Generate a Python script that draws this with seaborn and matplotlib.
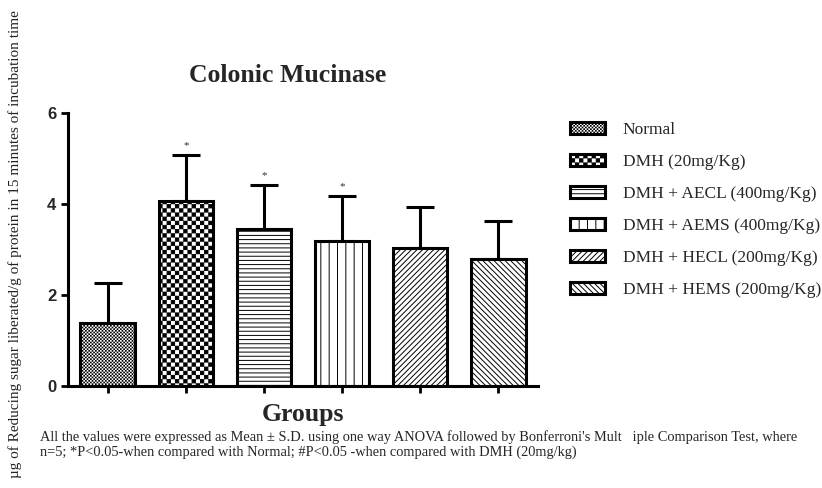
import numpy as np
import matplotlib
matplotlib.use("Agg")
import matplotlib.pyplot as plt
import matplotlib.patches as mpatches
from matplotlib import hatch as mhatch
import seaborn as sns

groups = ["Normal", "DMH (20mg/Kg)", "DMH + AECL (400mg/Kg)",
          "DMH + AEMS (400mg/Kg)", "DMH + HECL (200mg/Kg)", "DMH + HEMS (200mg/Kg)"]
means = [1.38, 4.07, 3.45, 3.19, 3.03, 2.79]
sds = [0.88, 1.01, 0.97, 0.99, 0.90, 0.84]
significant = [False, True, True, True, False, False]
y_ticks = [0, 2, 4, 6]


# Checkerboard hatch, bound to the '*' character (more stars = finer cells)
class Checkerboard(mhatch.HatchPatternBase):
    def __init__(self, hatch, density):
        self.n = hatch.count('*') * density
        # fine cells get smaller squares so the stroke does not swamp them
        self.fill_fraction = 0.8 if self.n < 30 else 0.4
        self.cells = [(i, j) for i in range(self.n) for j in range(self.n)
                      if (i + j) % 2 == 0]
        self.num_vertices = len(self.cells) * 5 if self.n else 0

    def set_vertices_and_codes(self, vertices, codes):
        c = 1.0 / self.n
        s = c * self.fill_fraction
        pad = (c - s) / 2
        sq = np.array([[0, 0], [s, 0], [s, s], [0, s], [0, 0]])
        for k, (i, j) in enumerate(self.cells):
            vertices[k * 5:(k + 1) * 5] = sq + [i * c + pad, j * c + pad]
            codes[k * 5:(k + 1) * 5] = [1, 2, 2, 2, 79]


mhatch._hatch_types = [Checkerboard if t is mhatch.Stars else t
                       for t in mhatch._hatch_types]

hatches = ["*" * 10, "*" * 4, "----", "||", "//////", "\\" * 6]

sns.set_style("ticks")
plt.rcParams["hatch.linewidth"] = 0.7
serif = ["Liberation Serif", "DejaVu Serif"]

fig = plt.figure(figsize=(8.22, 4.88), dpi=100)
ax = fig.add_axes([0.0827, 0.209, 0.5718, 0.5594])

sns.barplot(x=list(range(len(groups))), y=means, ax=ax, color="white",
            edgecolor="black", linewidth=2.2, width=0.7, errorbar=None)

for bar, h in zip(ax.patches, hatches):
    bar.set_hatch(h)
    bar.set_facecolor("white")
    bar.set_edgecolor("black")

x = np.arange(len(groups))
ax.errorbar(x, means, yerr=[np.zeros(len(sds)), sds], fmt="none",
            ecolor="black", elinewidth=2.2, capsize=10, capthick=2.2, zorder=0.5)

for i, (m, s, sig) in enumerate(zip(means, sds, significant)):
    if sig:
        ax.text(i, m + s + 0.1, "*", ha="center", va="bottom",
                fontsize=8, color="#333333", family=serif)

ax.set_ylim(0, 6)
ax.set_xlim(-0.51, 5.51)
ax.set_yticks(y_ticks)
ax.set_yticklabels([str(t) for t in y_ticks], fontsize=12, fontweight="bold",
                   family=["Liberation Sans", "DejaVu Sans"])
ax.set_xticks(x)
ax.set_xticklabels([])
ax.tick_params(axis="both", direction="out", width=2, length=5, color="black")
for side in ["top", "right"]:
    ax.spines[side].set_visible(False)
for side in ["left", "bottom"]:
    ax.spines[side].set_linewidth(2.2)
    ax.spines[side].set_color("black")

fig.text(288 / 822, 1 - 75 / 488, "Colonic Mucinase", fontsize=18.5,
         fontweight="bold", family=serif, ha="center", va="center")
ax.set_xlabel("Groups", fontsize=18.5, fontweight="bold", family=serif, labelpad=4)

fig.text(0.018, 0.5,
         "\u00b5g of Reducing sugar liberated/g of protein in 15 minutes of incubation time",
         rotation=90, ha="center", va="center", fontsize=11, family=serif,
         color="#222222")

fig.text(0.049, 0.104,
         "All the values were expressed as Mean \u00b1 S.D. using one way ANOVA followed by "
         "Bonferroni's Mult   iple Comparison Test, where",
         fontsize=10.4, family=serif, ha="left", va="center")
fig.text(0.049, 0.073,
         "n=5; *P<0.05-when compared with Normal; #P<0.05 -when compared with DMH (20mg/kg)",
         fontsize=10.4, family=serif, ha="left", va="center")

handles = [mpatches.Patch(facecolor="white", edgecolor="black", linewidth=2.2, hatch=h)
           for h in hatches]
fig.legend(handles, groups, loc="upper left", bbox_to_anchor=(0.6934, 0.750),
           frameon=False, prop={"family": serif, "size": 12.5},
           handlelength=2.0, handleheight=0.7, labelspacing=0.91,
           handletextpad=1.03, borderpad=0, borderaxespad=0)

fig.savefig("out.png", dpi=100)
